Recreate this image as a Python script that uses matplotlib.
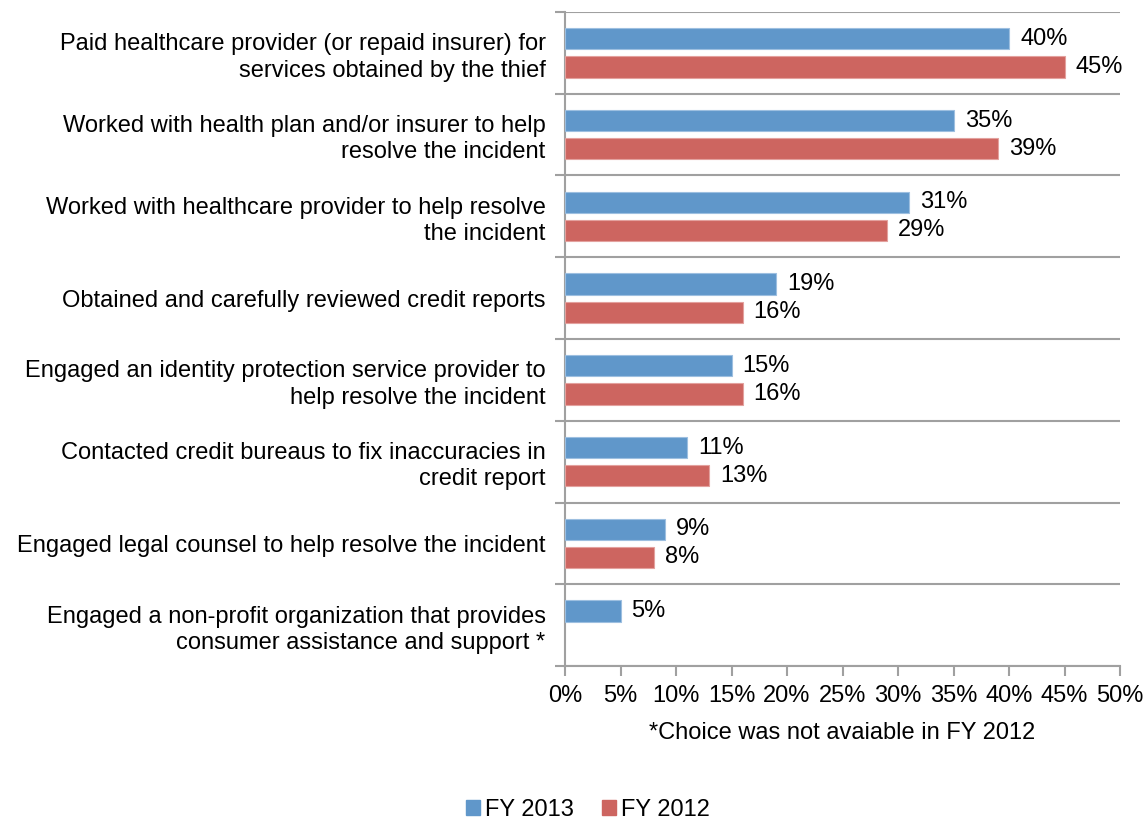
import matplotlib.pyplot as plt
import matplotlib.patches as mpatches
import numpy as np

plt.rcParams['font.family'] = ['Liberation Sans', 'DejaVu Sans']

actions = [
    'Paid healthcare provider (or repaid insurer) for\nservices obtained by the thief',
    'Worked with health plan and/or insurer to help\nresolve the incident',
    'Worked with healthcare provider to help resolve\nthe incident',
    'Obtained and carefully reviewed credit reports',
    'Engaged an identity protection service provider to\nhelp resolve the incident',
    'Contacted credit bureaus to fix inaccuracies in\ncredit report',
    'Engaged legal counsel to help resolve the incident',
    'Engaged a non-profit organization that provides\nconsumer assistance and support *',
]
fy2013 = [40, 35, 31, 19, 15, 11, 9, 5]
fy2012 = [45, 39, 29, 16, 16, 13, 8, None]  # last choice not offered in FY 2012
xticks = [0, 5, 10, 15, 20, 25, 30, 35, 40, 45, 50]

blue = '#6097CA'
red = '#CD6560'
grid = '#A0A0A0'

fig = plt.figure(figsize=(11.47, 8.22), dpi=100)
ax = fig.add_axes([565 / 1147, 1 - 666 / 822, 555 / 1147, 654 / 822])

y = np.arange(len(actions)) + 0.5
h = 0.26
off = 0.172
fs = 17

for i, (a, b) in enumerate(zip(fy2013, fy2012)):
    ax.barh(y[i] - off, a, height=h, color=blue, edgecolor='#9DBFE0', linewidth=0.8, zorder=3)
    ax.text(a + 1.0, y[i] - off, f'{a}%', va='center', ha='left', fontsize=fs)
    if b is not None:
        ax.barh(y[i] + off, b, height=h, color=red, edgecolor='#E3A19E', linewidth=0.8, zorder=3)
        ax.text(b + 1.0, y[i] + off, f'{b}%', va='center', ha='left', fontsize=fs)

ax.set_xlim(0, 50)
ax.set_ylim(len(actions), 0)

# category separators as major ticks, labels on minor ticks
ax.set_yticks(np.arange(len(actions) + 1))
ax.set_yticklabels([])
ax.set_yticks(y, minor=True)
ax.set_yticklabels(actions, minor=True, fontsize=fs, ha='right', linespacing=1.25)
ax.tick_params(axis='y', which='minor', length=0, pad=14)
ax.tick_params(axis='y', which='major', length=7, color=grid, width=1.5)
ax.yaxis.grid(True, which='major', color=grid, linewidth=1.5, zorder=0)

ax.set_xticks(xticks)
ax.set_xticklabels([f'{t}%' for t in xticks], fontsize=fs)
ax.tick_params(axis='x', length=7, color=grid, width=1.5, pad=7)

for s in ['top', 'right']:
    ax.spines[s].set_visible(False)
for s in ['left', 'bottom']:
    ax.spines[s].set_color(grid)
    ax.spines[s].set_linewidth(1.5)

fig.text(842 / 1147, 1 - 733 / 822, '*Choice was not avaiable in FY 2012',
         ha='center', va='center', fontsize=fs)

handles = [mpatches.Patch(color=blue, label='FY 2013'),
           mpatches.Patch(color=red, label='FY 2012')]
fig.legend(handles=handles, loc='center', bbox_to_anchor=(588 / 1147, 1 - 810 / 822),
           ncol=2, frameon=False, fontsize=fs, handlelength=0.6, handleheight=0.6,
           handletextpad=0.2, columnspacing=1.2)

fig.savefig('out.png', dpi=100)
